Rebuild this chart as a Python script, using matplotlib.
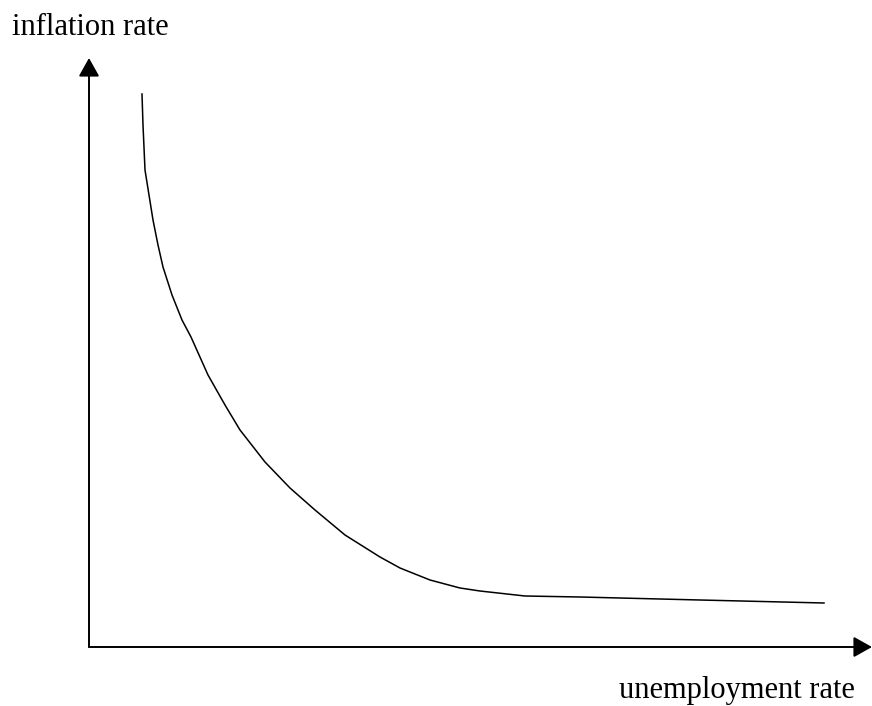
import matplotlib
matplotlib.use("Agg")
import matplotlib.pyplot as plt

# Phillips curve (origin at the axis corner, arbitrary units)
unemployment = [53, 54, 56, 60, 64, 69, 74, 83, 93, 102, 119, 136, 151, 176, 201,
                226, 256, 291, 311, 341, 371, 391, 436, 491, 611, 735]
inflation = [553, 522, 477, 452, 427, 402, 380, 352, 327, 310, 272, 242, 217, 185, 159,
             137, 112, 90, 79, 67, 59, 56, 51, 50, 47, 44]

X_LABEL = "unemployment rate"
Y_LABEL = "inflation rate"

fig = plt.figure(figsize=(8.72, 7.06), dpi=100)
ax = fig.add_axes([0, 0, 1, 1])
ax.set_xlim(-89, 783)
ax.set_ylim(-59, 647)
ax.axis("off")

# axes with arrow heads
arrow = dict(arrowstyle="-|>,head_length=0.75,head_width=0.42", mutation_scale=15,
             lw=1.4, color="black", shrinkA=0, shrinkB=0)
ax.annotate("", xy=(0, 589), xytext=(0, 0), arrowprops=arrow)
ax.annotate("", xy=(783, 0), xytext=(0, 0), arrowprops=arrow)

ax.plot(unemployment, inflation, color="black", lw=1.1)

font = dict(family="Liberation Serif", size=22, color="black")
ax.text(-77, 612, Y_LABEL, ha="left", va="baseline", **font)
ax.text(530, -51, X_LABEL, ha="left", va="baseline", **font)

fig.savefig("out.png", dpi=100)
